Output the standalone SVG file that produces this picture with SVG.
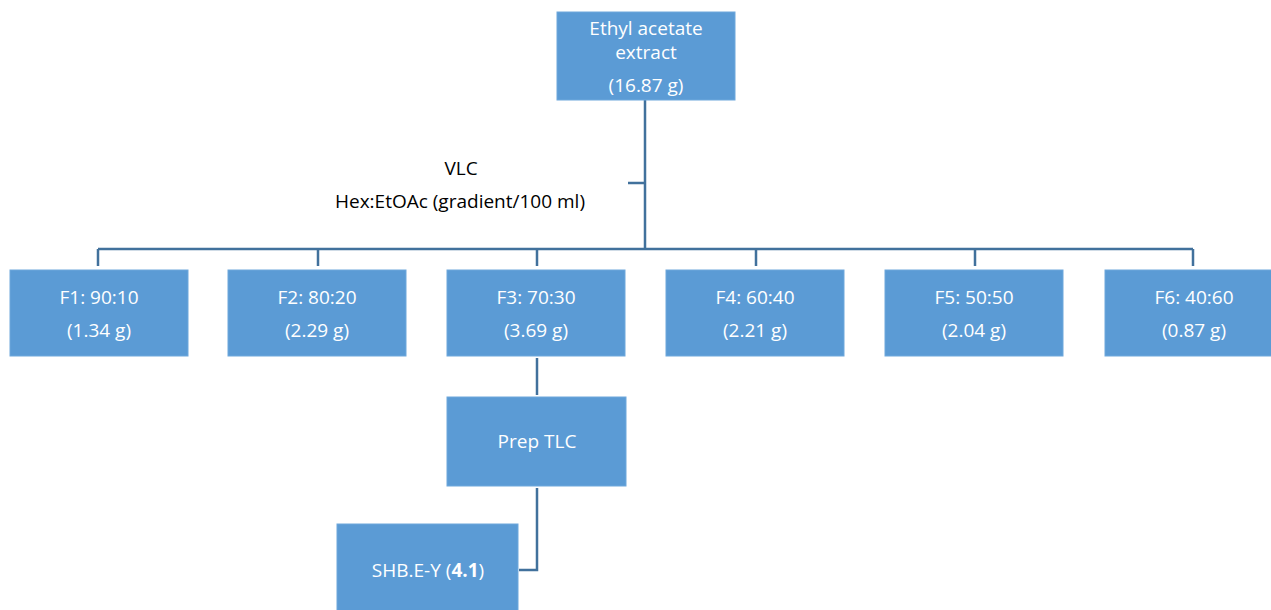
<svg xmlns="http://www.w3.org/2000/svg" width="1271" height="610" viewBox="0 0 1271 610">
<style>
.box{fill:#5b9bd5;stroke:#6fa8dc;stroke-width:1}
.t{font-family:"Open Sans","Liberation Sans",sans-serif;font-size:19px;fill:#ffffff;text-anchor:middle;dominant-baseline:central}
.d{font-family:"Open Sans","Liberation Sans",sans-serif;font-size:19px;fill:#000000;text-anchor:middle;dominant-baseline:central}
.c{fill:none;stroke:#41719c;stroke-width:2.5}
</style>
<rect width="1271" height="610" fill="#ffffff"/>
<g id="connectors">
<path class="c" d="M645 100 V249 M628 183 H645 M98 249 H1193 M98 249 V266 M318 249 V266 M537 249 V266 M756 249 V266 M975 249 V266 M1193 249 V266"/>
<path class="c" d="M537 358 V395"/>
<path class="c" d="M537 488 V570 H519"/>
</g>
<g id="label-vlc">
<text class="d" x="461" y="168">VLC</text>
<text class="d" x="460" y="201">Hex:EtOAc (gradient/100 ml)</text>
</g>
<g id="ethyl">
<rect class="box" x="557" y="12" width="178" height="88"/>
<text class="t" x="646" y="28">Ethyl acetate</text>
<text class="t" x="646" y="52">extract</text>
<text class="t" x="646" y="85">(16.87 g)</text>
</g>
<g id="f1">
<rect class="box" x="10" y="270" width="178" height="86"/>
<text class="t" x="99" y="297">F1: 90:10</text>
<text class="t" x="99" y="330">(1.34 g)</text>
</g>
<g id="f2">
<rect class="box" x="228" y="270" width="178" height="86"/>
<text class="t" x="317" y="297">F2: 80:20</text>
<text class="t" x="317" y="330">(2.29 g)</text>
</g>
<g id="f3">
<rect class="box" x="447" y="270" width="178" height="86"/>
<text class="t" x="536" y="297">F3: 70:30</text>
<text class="t" x="536" y="330">(3.69 g)</text>
</g>
<g id="f4">
<rect class="box" x="666" y="270" width="178" height="86"/>
<text class="t" x="755" y="297">F4: 60:40</text>
<text class="t" x="755" y="330">(2.21 g)</text>
</g>
<g id="f5">
<rect class="box" x="885" y="270" width="178" height="86"/>
<text class="t" x="974" y="297">F5: 50:50</text>
<text class="t" x="974" y="330">(2.04 g)</text>
</g>
<g id="f6">
<rect class="box" x="1105" y="270" width="178" height="86"/>
<text class="t" x="1194" y="297">F6: 40:60</text>
<text class="t" x="1194" y="330">(0.87 g)</text>
</g>
<g id="prep-tlc">
<rect class="box" x="447" y="397" width="179" height="89"/>
<text class="t" x="537" y="441">Prep TLC</text>
</g>
<g id="shb">
<rect class="box" x="337" y="524" width="181" height="95"/>
<text class="t" x="428" y="570">SHB.E-Y (<tspan font-weight="bold">4.1</tspan>)</text>
</g>
</svg>
